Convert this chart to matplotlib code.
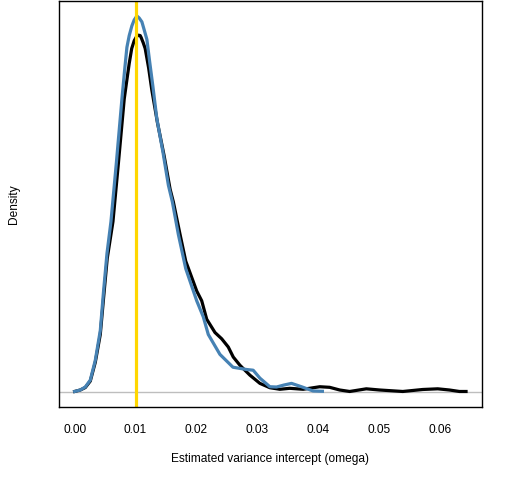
import matplotlib
matplotlib.use("Agg")
import matplotlib.pyplot as plt

plt.rcParams['font.family'] = ['Liberation Sans', 'DejaVu Sans']

# density of estimated omega, black = sample 1, blue = sample 2
x_black = [0.0000, 0.00093, 0.00175, 0.00257, 0.00339, 0.00421, 0.00475, 0.00535,
           0.00629, 0.00720, 0.00814, 0.00855, 0.00896, 0.00937, 0.00978, 0.01015,
           0.01048, 0.01076, 0.01092, 0.01125, 0.01158, 0.01215, 0.01267, 0.01359,
           0.01468, 0.01567, 0.01621, 0.01731, 0.01824, 0.01867, 0.02004, 0.02086,
           0.02168, 0.02304, 0.02414, 0.02522, 0.02604,
           0.02713, 0.02877, 0.03041, 0.03205, 0.03369,
           0.03532, 0.03750, 0.04024, 0.04187, 0.04351, 0.04515, 0.04788, 0.05006,
           0.05387, 0.05715, 0.05960, 0.06152, 0.06316, 0.06425]
y_black = [0.05, 0.43, 1.06, 2.70, 7.50, 14.6, 23.9, 34.0,
           43.4, 58.6, 74.7, 79.3, 83.8, 87.6, 89.6, 90.6,
           91.0, 90.9, 90.4, 89.1, 87.6, 82.6, 77.0, 68.7,
           60.3, 51.7, 48.4, 40.1, 33.3, 31.5, 25.7, 23.2,
           18.5, 15.1, 13.5, 11.4, 8.84,
           6.75, 4.22, 2.12, 1.01, 0.61,
           0.86, 0.61, 1.26, 1.11, 0.43, 0.05, 0.73, 0.43,
           0.05, 0.56, 0.73, 0.43, 0.05, 0.05]

x_blue = [0.0000, 0.00093, 0.00175, 0.00257, 0.00339, 0.00421, 0.00475, 0.00531,
          0.00596, 0.00686, 0.00776, 0.00822, 0.00858, 0.00896, 0.00940, 0.00978,
          0.01022, 0.01059, 0.01104, 0.01141, 0.01186, 0.01231, 0.01284, 0.01349,
          0.01448, 0.01539, 0.01605, 0.01703, 0.01824, 0.02004, 0.02112, 0.02194,
          0.02385, 0.02599, 0.02823, 0.02931, 0.03041, 0.03205, 0.03314, 0.03434,
          0.03560, 0.03724, 0.03914, 0.04067]
y_blue = [0.05, 0.43, 1.19, 2.96, 8.01, 15.6, 25.7, 35.3,
          43.4, 58.6, 74.7, 82.3, 87.9, 90.9, 93.4, 94.9,
          95.9, 95.4, 94.4, 92.4, 89.9, 84.3, 78.0, 69.7,
          61.3, 52.7, 48.4, 40.1, 31.4, 23.2, 19.1, 14.6,
          9.52, 6.24, 5.66, 5.48, 3.46, 1.26, 1.19, 1.69,
          2.12, 1.26, 0.18, 0.10]

true_omega = 0.01
xticks = [0.00, 0.01, 0.02, 0.03, 0.04, 0.05, 0.06]

fig = plt.figure(figsize=(5.12, 4.8), dpi=100)
ax = fig.add_axes([0.1152, 0.1527, 0.8256, 0.8453])

ax.axhline(0, color='#bebebe', lw=1)
ax.plot(x_black, y_black, color='black', lw=2.3)
ax.plot(x_blue, y_blue, color='steelblue', lw=2.3)
ax.axvline(true_omega, color='gold', lw=2.3)

xmax = max(x_black)
ax.set_xlim(-0.04 * xmax, 1.04 * xmax)
ymax = max(y_blue)
ax.set_ylim(-0.04 * ymax, 1.04 * ymax)

ax.set_xticks(xticks)
ax.set_xticklabels(["%.2f" % t for t in xticks])
ax.set_yticks([])
ax.tick_params(axis='x', length=0, pad=12.5, labelsize=8.6)
for s in ax.spines.values():
    s.set_linewidth(1)

ax.set_xlabel("Estimated variance intercept (omega)", fontsize=8.6, labelpad=12.5)
ax.set_ylabel("Density", fontsize=8.6, labelpad=28)

fig.savefig("out.png", dpi=100)
